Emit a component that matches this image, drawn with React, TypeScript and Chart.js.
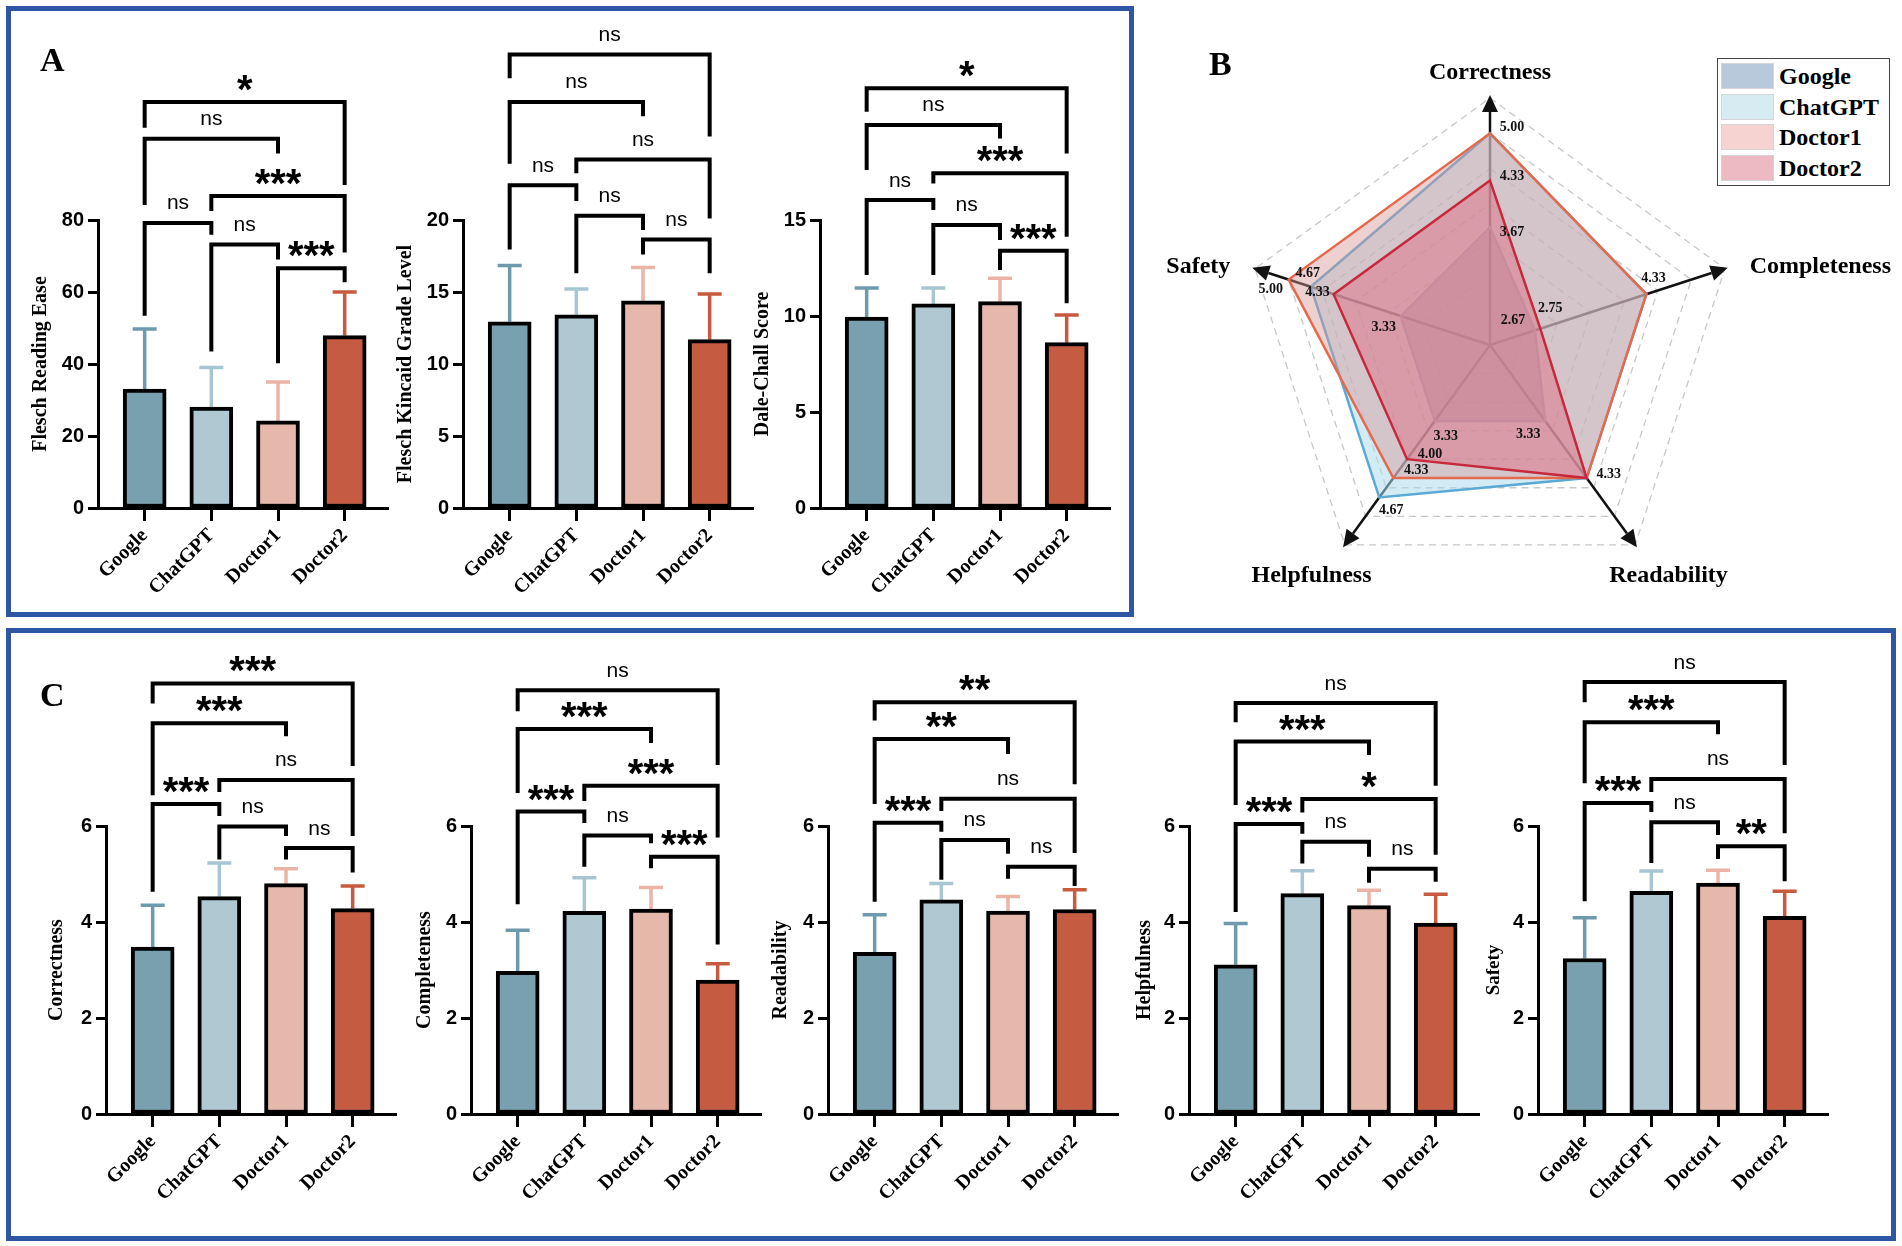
import React, { useEffect, useRef } from 'react';
import { Chart, registerables } from 'chart.js';

Chart.register(...registerables);

// ---------------- data ----------------
const categories = ['Google', 'ChatGPT', 'Doctor1', 'Doctor2'];
const pairs: [number, number][] = [[0, 1], [1, 2], [2, 3], [1, 3], [0, 2], [0, 3]];

// Panel A
const freMean = [33.0, 28.0, 24.2, 47.9];
const freSd = [16.7, 11.0, 10.8, 12.1];
const freSig = ['ns', 'ns', '***', '***', 'ns', '*'];
const freLine = [79.2, 73.2, 66.6, 86.7, 102.6, 112.8];
const freLeft = [53.4, 43.5, 40.2, 82.5, 84.2, 105.6];
const freRight = [75.9, 69.0, 62.7, 71.0, 98.5, 89.7];

const fkMean = [12.93, 13.42, 14.39, 11.69];
const fkSd = [3.91, 1.79, 2.31, 3.17];
const fkSig = ['ns', 'ns', 'ns', 'ns', 'ns', 'ns'];
const fkLine = [22.42, 20.3, 18.65, 24.2, 28.2, 31.5];
const fkLeft = [17.96, 16.3, 17.6, 23.25, 23.9, 29.85];
const fkRight = [21.32, 19.3, 16.3, 20.1, 27.2, 25.8];

const dcMean = [9.95, 10.63, 10.75, 8.61];
const dcSd = [1.51, 0.83, 1.21, 1.44];
const dcSig = ['ns', 'ns', '***', '***', 'ns', '*'];
const dcLine = [16.04, 14.74, 13.4, 17.43, 19.95, 21.86];
const dcLeft = [12.14, 12.14, 12.4, 16.9, 17.6, 20.64];
const dcRight = [15.52, 13.96, 10.66, 14.13, 19.25, 18.47];

// Panel C
const corMean = [3.48, 4.53, 4.8, 4.28];
const corSd = [0.87, 0.7, 0.31, 0.47];
const corSig = ['***', 'ns', 'ns', 'ns', '***', '***'];
const corLine = [6.46, 5.99, 5.54, 6.96, 8.14, 8.97];
const corLeft = [4.63, 5.3, 5.3, 6.71, 6.64, 8.55];
const corRight = [6.21, 5.79, 5.03, 5.79, 7.87, 7.25];

const comMean = [2.97, 4.22, 4.27, 2.79];
const comSd = [0.86, 0.7, 0.45, 0.34];
const comSig = ['***', 'ns', '***', '***', '***', 'ns'];
const comLine = [6.3, 5.8, 5.36, 6.84, 8.02, 8.83];
const comLeft = [4.37, 5.15, 5.12, 6.52, 6.69, 8.39];
const comRight = [6.06, 5.64, 3.53, 5.76, 7.73, 7.27];

const reaMean = [3.37, 4.46, 4.23, 4.26];
const reaSd = [0.78, 0.34, 0.3, 0.41];
const reaSig = ['***', 'ns', 'ns', 'ns', '**', '**'];
const reaLine = [6.07, 5.71, 5.15, 6.57, 7.81, 8.58];
const reaLeft = [4.42, 4.88, 4.9, 6.31, 6.46, 8.2];
const reaRight = [5.88, 5.42, 4.75, 5.44, 7.5, 6.87];

const helMean = [3.11, 4.59, 4.34, 3.98];
const helSd = [0.86, 0.48, 0.32, 0.6];
const helSig = ['***', 'ns', 'ns', '*', '***', 'ns'];
const helLine = [6.04, 5.67, 5.11, 6.56, 7.76, 8.56];
const helLeft = [4.21, 5.22, 4.82, 6.28, 6.44, 8.16];
const helRight = [5.84, 5.36, 4.84, 5.4, 7.48, 6.84];

const safMean = [3.24, 4.64, 4.81, 4.12];
const safSd = [0.85, 0.42, 0.27, 0.52];
const safSig = ['***', 'ns', '**', 'ns', '***', 'ns'];
const safLine = [6.48, 6.08, 5.58, 6.98, 8.16, 9.0];
const safLeft = [4.43, 5.23, 5.31, 6.71, 6.89, 8.58];
const safRight = [6.29, 5.81, 4.85, 5.85, 7.91, 7.27];

// Panel B (radar)
const radarAxes = ['Correctness', 'Completeness', 'Readability', 'Helpfulness', 'Safety'];
const googleRadar = [3.67, 2.67, 3.33, 3.33, 3.33];
const chatgptRadar = [5.0, 4.33, 4.33, 4.67, 4.67];
const doctor1Radar = [5.0, 4.33, 4.33, 4.33, 5.0];
const doctor2Radar = [4.33, 2.75, 4.33, 4.0, 4.33];
// value labels shown: [axis index, value]
const radarValueLabels: [number, number][] = [
  [0, 5.0], [0, 4.33], [0, 3.67],
  [1, 4.33], [1, 2.75], [1, 2.67],
  [2, 4.33], [2, 3.33],
  [3, 3.33], [3, 4.0], [3, 4.33], [3, 4.67],
  [4, 4.67], [4, 5.0], [4, 4.33], [4, 3.33],
];

// ---------------- styles ----------------
const SERIF = '"Liberation Serif", "Times New Roman", serif';
const SANS = '"Liberation Sans", Arial, sans-serif';
const barColors = ['#78A0AF', '#AFC8D2', '#E6B8AC', '#C55C42'];
const errColors = ['#6E9AAD', '#A8C6D1', '#ECB4A7', '#C75A3F'];
const BLUE = '#2F55A5';

// label offsets (px) for radar value labels, same order as radarValueLabels
const radarValueOffsets: [number, number][] = [
  [22, -6], [22, -4], [22, 5],
  [7, -16], [10, -20], [-22, -10],
  [22, -4], [-17, 13],
  [11, 15], [23, -5], [23, -8], [12, 13],
  [-3, -13], [-18, 10], [-16, -2], [-17, 11],
];
// axis name placement: [extra distance beyond outer ring, dx, align]
const radarNameLayout: [number, number, CanvasTextAlign][] = [
  [25, 0, 'center'],
  [5, 20, 'left'],
  [38, 11, 'center'],
  [38, -11, 'center'],
  [5, -20, 'right'],
];

interface BarSpec {
  id: string;
  title: string;
  titleSize: number;
  titleGap: number;
  axisX: number;
  top: number;
  height: number;
  plotTop: number;
  plotBottom: number;
  yMax: number;
  yStep: number;
  means: number[];
  sds: number[];
  sig: string[];
  line: number[];
  leftEnd: number[];
  rightEnd: number[];
}

const A_TOP = 12, A_H = 598, A_PT = 220, A_PB = 508;
const C_TOP = 640, C_H = 588, C_PT = 826, C_PB = 1114;

const specs: BarSpec[] = [
  { id: 'a1', title: 'Flesch Reading Ease', titleSize: 20, titleGap: 57, axisX: 98, top: A_TOP, height: A_H, plotTop: A_PT, plotBottom: A_PB, yMax: 80, yStep: 20, means: freMean, sds: freSd, sig: freSig, line: freLine, leftEnd: freLeft, rightEnd: freRight },
  { id: 'a2', title: 'Flesch Kincaid Grade Level', titleSize: 20, titleGap: 57, axisX: 463, top: A_TOP, height: A_H, plotTop: A_PT, plotBottom: A_PB, yMax: 20, yStep: 5, means: fkMean, sds: fkSd, sig: fkSig, line: fkLine, leftEnd: fkLeft, rightEnd: fkRight },
  { id: 'a3', title: 'Dale-Chall Score', titleSize: 20, titleGap: 57, axisX: 820, top: A_TOP, height: A_H, plotTop: A_PT, plotBottom: A_PB, yMax: 15, yStep: 5, means: dcMean, sds: dcSd, sig: dcSig, line: dcLine, leftEnd: dcLeft, rightEnd: dcRight },
  { id: 'c1', title: 'Correctness', titleSize: 20, titleGap: 49, axisX: 106, top: C_TOP, height: C_H, plotTop: C_PT, plotBottom: C_PB, yMax: 6, yStep: 2, means: corMean, sds: corSd, sig: corSig, line: corLine, leftEnd: corLeft, rightEnd: corRight },
  { id: 'c2', title: 'Completeness', titleSize: 20, titleGap: 46, axisX: 471, top: C_TOP, height: C_H, plotTop: C_PT, plotBottom: C_PB, yMax: 6, yStep: 2, means: comMean, sds: comSd, sig: comSig, line: comLine, leftEnd: comLeft, rightEnd: comRight },
  { id: 'c3', title: 'Readability', titleSize: 20, titleGap: 47, axisX: 828, top: C_TOP, height: C_H, plotTop: C_PT, plotBottom: C_PB, yMax: 6, yStep: 2, means: reaMean, sds: reaSd, sig: reaSig, line: reaLine, leftEnd: reaLeft, rightEnd: reaRight },
  { id: 'c4', title: 'Helpfulness', titleSize: 20, titleGap: 44, axisX: 1189, top: C_TOP, height: C_H, plotTop: C_PT, plotBottom: C_PB, yMax: 6, yStep: 2, means: helMean, sds: helSd, sig: helSig, line: helLine, leftEnd: helLeft, rightEnd: helRight },
  { id: 'c5', title: 'Safety', titleSize: 19, titleGap: 44, axisX: 1538, top: C_TOP, height: C_H, plotTop: C_PT, plotBottom: C_PB, yMax: 6, yStep: 2, means: safMean, sds: safSd, sig: safSig, line: safLine, leftEnd: safLeft, rightEnd: safRight },
];

const Y_W = 90;
const PLOT_W = 290;
const PAD_R = 14;

function makeBarPlugin(spec: BarSpec) {
  return {
    id: 'sig_' + spec.id,
    beforeDatasetsDraw(chart: any) {
      const { ctx } = chart;
      const x = chart.scales.x;
      const y = chart.scales.y;
      ctx.save();
      ctx.lineWidth = 3.5;
      ctx.lineCap = 'butt';
      spec.means.forEach((m, i) => {
        const px = x.getPixelForValue(i);
        const y0 = y.getPixelForValue(m);
        const y1 = y.getPixelForValue(m + spec.sds[i]);
        ctx.strokeStyle = errColors[i];
        ctx.beginPath();
        ctx.moveTo(px, y0);
        ctx.lineTo(px, y1);
        ctx.moveTo(px - 12, y1);
        ctx.lineTo(px + 12, y1);
        ctx.stroke();
      });
      ctx.restore();
    },
    afterDatasetsDraw(chart: any) {
      const { ctx } = chart;
      const x = chart.scales.x;
      const y = chart.scales.y;
      ctx.save();
      ctx.strokeStyle = '#000';
      ctx.fillStyle = '#000';
      ctx.lineWidth = 4;
      ctx.lineJoin = 'miter';
      ctx.lineCap = 'butt';
      pairs.forEach(([a, b], k) => {
        const xa = x.getPixelForValue(a);
        const xb = x.getPixelForValue(b);
        const yl = y.getPixelForValue(spec.line[k]);
        ctx.beginPath();
        ctx.moveTo(xa, y.getPixelForValue(spec.leftEnd[k]));
        ctx.lineTo(xa, yl);
        ctx.lineTo(xb, yl);
        ctx.lineTo(xb, y.getPixelForValue(spec.rightEnd[k]));
        ctx.stroke();
        const txt = spec.sig[k];
        const star = txt.indexOf('*') >= 0;
        ctx.font = star ? `bold 40px ${SANS}` : `21px ${SANS}`;
        ctx.textAlign = 'center';
        ctx.textBaseline = 'alphabetic';
        const m = ctx.measureText(txt);
        const cy = yl - 19;
        const base = cy + (m.actualBoundingBoxAscent - m.actualBoundingBoxDescent) / 2;
        ctx.fillText(txt, (xa + xb) / 2, base);
      });
      ctx.restore();
    },
  };
}

function BarChart({ spec }: { spec: BarSpec }) {
  const ref = useRef<HTMLCanvasElement | null>(null);
  const width = Y_W + PLOT_W + PAD_R;
  useEffect(() => {
    if (!ref.current) return;
    const lineH = spec.titleSize * 1.2;
    const titlePad = Y_W - spec.titleGap - lineH / 2;
    const chart = new Chart(ref.current, {
      type: 'bar',
      data: {
        datasets: [
          {
            data: spec.means.map((v, i) => ({ x: i, y: v })),
            backgroundColor: barColors,
            borderColor: '#000',
            borderWidth: 4,
            borderSkipped: false,
            barThickness: 43,
          } as any,
        ],
      },
      options: {
        animation: false,
        responsive: false,
        layout: { autoPadding: false, padding: { top: spec.plotTop - spec.top, right: PAD_R, left: 0, bottom: 0 } },
        plugins: { legend: { display: false }, tooltip: { enabled: false } },
        scales: {
          x: {
            type: 'linear',
            offset: false,
            bounds: 'data',
            min: -0.7,
            max: 3.65,
            grid: { offset: false, drawOnChartArea: false, drawTicks: true, tickLength: 13, tickWidth: 3, tickColor: '#000' },
            border: { display: true, width: 3, color: '#000' },
            ticks: {
              autoSkip: false,
              minRotation: 45,
              maxRotation: 45,
              padding: 3,
              color: '#000',
              font: { family: SERIF, size: 20, weight: 'bold' },
              callback: (v: any) => categories[v as number] ?? '',
            },
            afterBuildTicks: (ax: any) => {
              ax.ticks = categories.map((_, i) => ({ value: i }));
            },
            afterFit: (ax: any) => {
              ax.height = spec.top + spec.height - spec.plotBottom;
              ax.paddingLeft = 0;
              ax.paddingRight = 0;
            },
          },
          y: {
            min: 0,
            max: spec.yMax,
            ticks: { stepSize: spec.yStep, padding: 4, color: '#000', font: { family: SANS, size: 20, weight: 'bold' } },
            grid: { drawOnChartArea: false, drawTicks: true, tickLength: 10, tickWidth: 3, tickColor: '#000' },
            border: { display: true, width: 3, color: '#000' },
            title: {
              display: true,
              text: spec.title,
              color: '#000',
              font: { family: SERIF, size: spec.titleSize, weight: 'bold' },
              padding: { top: titlePad, bottom: 0 },
            },
            afterFit: (ax: any) => {
              ax.width = Y_W;
              ax.paddingTop = 0;
              ax.paddingBottom = 0;
            },
          },
        },
      } as any,
      plugins: [makeBarPlugin(spec) as any],
    });
    return () => chart.destroy();
  }, [spec]);
  return (
    <canvas
      ref={ref}
      width={width}
      height={spec.height}
      style={{ position: 'absolute', left: spec.axisX - Y_W, top: spec.top, width, height: spec.height }}
    />
  );
}

const RADAR_LEFT = 1150, RADAR_TOP = 14, RADAR_W = 752, RADAR_H = 600;

const radarPlugin = {
  id: 'radarDecor',
  beforeDatasetsDraw(chart: any) {
    const r = chart.scales.r;
    const ctx = chart.ctx;
    const R = r.getDistanceFromCenterForValue(r.max);
    ctx.save();
    ctx.strokeStyle = '#111';
    ctx.fillStyle = '#111';
    ctx.lineWidth = 2.5;
    radarAxes.forEach((_, i) => {
      const tip = r.getPointPosition(i, R + 3);
      const base = r.getPointPosition(i, R - 14);
      const ang = tip.angle;
      ctx.beginPath();
      ctx.moveTo(r.xCenter, r.yCenter);
      ctx.lineTo(base.x, base.y);
      ctx.stroke();
      const nx = -Math.sin(ang), ny = Math.cos(ang);
      ctx.beginPath();
      ctx.moveTo(tip.x, tip.y);
      ctx.lineTo(base.x + nx * 8, base.y + ny * 8);
      ctx.lineTo(base.x - nx * 8, base.y - ny * 8);
      ctx.closePath();
      ctx.fill();
    });
    ctx.restore();
  },
  afterDatasetsDraw(chart: any) {
    const r = chart.scales.r;
    const ctx = chart.ctx;
    const R = r.getDistanceFromCenterForValue(r.max);
    ctx.save();
    ctx.fillStyle = '#111';
    ctx.font = `bold 14px ${SERIF}`;
    ctx.textAlign = 'center';
    ctx.textBaseline = 'middle';
    radarValueLabels.forEach(([ai, v], k) => {
      const p = r.getPointPosition(ai, r.getDistanceFromCenterForValue(v));
      const [dx, dy] = radarValueOffsets[k];
      ctx.fillText(v.toFixed(2), p.x + dx, p.y + dy);
    });
    ctx.font = `bold 24px ${SERIF}`;
    ctx.fillStyle = '#000';
    radarAxes.forEach((name, i) => {
      const [extra, dx, align] = radarNameLayout[i];
      const p = r.getPointPosition(i, R + extra);
      ctx.textAlign = align;
      ctx.fillText(name, p.x + dx, p.y);
    });
    ctx.restore();
  },
};

function RadarChart() {
  const ref = useRef<HTMLCanvasElement | null>(null);
  useEffect(() => {
    if (!ref.current) return;
    const chart = new Chart(ref.current, {
      type: 'radar',
      data: {
        labels: radarAxes,
        datasets: [
          { label: 'Google', data: googleRadar, borderColor: '#8096B6', backgroundColor: 'rgba(120,100,140,0.5)', order: 4 },
          { label: 'ChatGPT', data: chatgptRadar, borderColor: '#5AAAD5', backgroundColor: 'rgba(175,218,235,0.55)', order: 3 },
          { label: 'Doctor1', data: doctor1Radar, borderColor: '#E5694C', backgroundColor: 'rgba(215,150,150,0.45)', order: 2 },
          { label: 'Doctor2', data: doctor2Radar, borderColor: '#C8283B', backgroundColor: 'rgba(220,105,125,0.45)', order: 1 },
        ].map((d) => ({ ...d, fill: true, borderWidth: 2.5, pointRadius: 0, tension: 0 })) as any,
      },
      options: {
        animation: false,
        responsive: false,
        layout: { padding: { left: 93, top: 84, right: RADAR_W - 93 - 494, bottom: RADAR_H - 84 - 494 } },
        plugins: { legend: { display: false }, tooltip: { enabled: false } },
        scales: {
          r: {
            min: 2,
            max: 5.5,
            ticks: { stepSize: 0.5, display: false },
            grid: { color: '#C8C8C8', lineWidth: 1.3 },
            border: { dash: [7, 5] },
            angleLines: { display: false },
            pointLabels: { display: false },
          },
        },
      } as any,
      plugins: [radarPlugin as any],
    });
    return () => chart.destroy();
  }, []);
  return (
    <canvas
      ref={ref}
      width={RADAR_W}
      height={RADAR_H}
      style={{ position: 'absolute', left: RADAR_LEFT, top: RADAR_TOP, width: RADAR_W, height: RADAR_H }}
    />
  );
}

const legendItems = [
  { name: 'Google', color: '#B8C9DB' },
  { name: 'ChatGPT', color: '#D6ECF2' },
  { name: 'Doctor1', color: '#F6D3D0' },
  { name: 'Doctor2', color: '#EDBAC3' },
];

function Legend() {
  return (
    <div
      style={{
        position: 'absolute',
        left: 1717,
        top: 58,
        width: 173,
        height: 128,
        boxSizing: 'border-box',
        border: '1.5px solid #444',
        background: '#fff',
      }}
    >
      {legendItems.map((it, i) => (
        <div key={it.name} style={{ position: 'absolute', left: 3, top: 4 + i * 30.7, height: 26, display: 'flex', alignItems: 'center' }}>
          <div style={{ width: 53, height: 26, background: it.color, boxSizing: 'border-box', border: '1px solid #d5d5d5' }} />
          <div style={{ marginLeft: 5, fontFamily: SERIF, fontWeight: 'bold', fontSize: 24, lineHeight: '26px', color: '#000' }}>{it.name}</div>
        </div>
      ))}
    </div>
  );
}

function PanelLetter({ text, left, top }: { text: string; left: number; top: number }) {
  return (
    <div style={{ position: 'absolute', left, top, fontFamily: SERIF, fontWeight: 'bold', fontSize: 34, lineHeight: '34px', color: '#000' }}>
      {text}
    </div>
  );
}

export default function App() {
  return (
    <div style={{ position: 'absolute', left: 0, top: 0, width: 1902, height: 1246, background: '#fff', overflow: 'hidden' }}>
      <div style={{ position: 'absolute', left: 6, top: 6, width: 1128, height: 611, boxSizing: 'border-box', border: `5px solid ${BLUE}` }} />
      <div style={{ position: 'absolute', left: 6, top: 628, width: 1890, height: 613, boxSizing: 'border-box', border: `5px solid ${BLUE}` }} />
      {specs.map((s) => (
        <BarChart key={s.id} spec={s} />
      ))}
      <RadarChart />
      <Legend />
      <PanelLetter text="A" left={40} top={43} />
      <PanelLetter text="B" left={1209} top={47} />
      <PanelLetter text="C" left={40} top={678} />
    </div>
  );
}
